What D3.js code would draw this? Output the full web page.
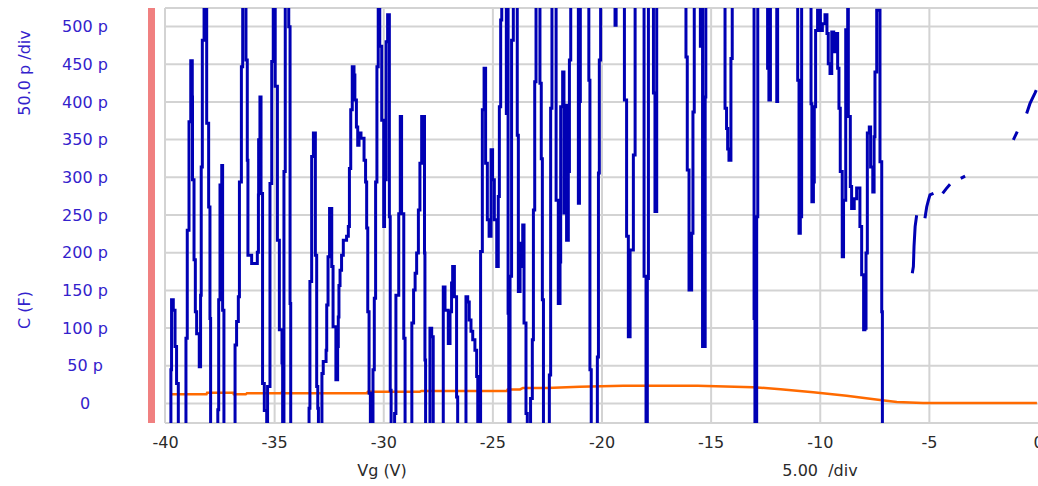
<!DOCTYPE html>
<html>
<head>
<meta charset="utf-8">
<script src="https://cdn.jsdelivr.net/npm/d3@7"></script>
<style>
  html, body { margin: 0; padding: 0; background: #ffffff; }
  svg { display: block; }
  text { font-family: "DejaVu Sans", Verdana, sans-serif; }
</style>
</head>
<body>
<svg id="chart" width="1038" height="486"></svg>
<script>
// ---------- data ----------
const xTicks = [-40, -35, -30, -25, -20, -15, -10, -5, 0];
const xTickLabels = ["-40", "-35", "-30", "-25", "-20", "-15", "-10", "-5", "0"];
const yTicks = [0, 50, 100, 150, 200, 250, 300, 350, 400, 450, 500];
const yTickLabels = ["0", "50 p", "100 p", "150 p", "200 p", "250 p", "300 p", "350 p", "400 p", "450 p", "500 p"];

// Capacitance trace, noisy part (Vg in V, C in pF)
const capVg = [
  -39.76,-39.73,-39.70,-39.62,-39.54,-39.47,-39.39,
  -39.13,-39.04,-38.98,-38.90,-38.82,-38.75,-38.74,-38.67,-38.61,-38.55,-38.43,-38.37,-38.34,-38.29,-38.21,-38.09,-38.00,-37.94,-37.91,
  -37.60,-37.58,-37.54,-37.48,-37.40,-37.36,-37.30,
  -36.84,-36.79,-36.72,-36.64,-36.59,-36.50,-36.44,-36.33,-36.29,-36.23,-36.20,-36.03,-35.83,-35.77,-35.72,-35.71,-35.65,-35.60,-35.53,-35.45,-35.34,
  -35.30,-35.20,-35.19,-35.11,-35.04,-34.95,-34.85,-34.76,-34.64,-34.61,-34.55,-34.49,-34.38,-34.33,-34.27,-34.24,
  -33.43,-33.40,-33.36,-33.28,-33.20,-33.11,-33.05,-33.00,-32.97,
  -32.82,-32.81,-32.75,-32.62,-32.59,-32.53,-32.46,-32.36,-32.30,-32.17,-32.09,-32.06,-32.03,-31.98,-31.91,-31.83,-31.68,-31.60,-31.55,-31.49,-31.42,-31.34,-31.30,-31.23,-31.17,-31.11,-31.02,-30.88,-30.81,-30.76,-30.71,-30.65,-30.59,
  -30.50,-30.47,-30.41,-30.35,-30.29,-30.23,-30.16,-30.07,-29.98,-29.94,-29.87,-29.80,-29.72,-29.68,-29.64,
  -29.49,-29.48,-29.42,-29.29,-29.22,-29.16,-29.06,-29.00,
  -28.70,-28.69,-28.61,-28.54,-28.47,-28.39,-28.32,-28.24,-28.13,-28.11,-28.09,-28.06,
  -27.87,-27.86,-27.78,-27.71,
  -27.26,-27.25,-27.17,-27.02,-26.94,-26.87,-26.82,-26.74,-26.64,-26.59,
  -26.26,-26.21,-26.13,-26.06,-25.98,-25.90,-25.80,-25.72,-25.67,-25.61,-25.57,
  -25.54,-25.46,-25.38,-25.31,-25.23,-25.15,-25.06,-24.99,-24.91,-24.80,-24.73,-24.68,-24.62,-24.57,-24.45,-24.36,-24.32,-24.28,-24.25,
  -24.22,-24.19,-24.12,-24.04,-23.89,-23.86,-23.81,-23.73,-23.69,-23.61,-23.55,-23.46,-23.40,
  -23.31,-23.25,-23.17,-23.12,-23.06,-23.00,-22.91,-22.82,-22.76,-22.71,-22.66,
  -22.40,-22.39,-22.33,-22.27,-22.15,-22.08,-21.98,-21.90,-21.87,-21.78,-21.72,-21.67,-21.60,-21.52,-21.47,-21.41,
  -21.08,-21.06,-21.01,-20.97,-20.63,-20.58,-20.53,-20.47,
  -20.25,-20.19,-20.14,-20.10,-20.04,
  -19.38,-19.33,
  -18.95,-18.85,-18.77,-18.69,-18.54,-18.46,
  -18.05,-17.96,-17.90,-17.85,
  -17.62,-17.55,-17.47,
  -16.13,-16.07,-15.99,-15.87,-15.81,-15.75,
  -15.49,-15.47,-15.44,-15.37,-15.25,-15.22,
  -14.42,-14.34,-14.27,-14.22,-14.16,-14.07,-14.01,
  -13.04,-13.01,-12.97,-12.89,-12.84,
  -12.43,-12.39,-12.33,-12.26,
  -12.02,-11.97,-11.93,
  -11.06,-11.01,-10.95,-10.89,-10.83,
  -10.45,-10.40,-10.36,-10.29,-10.25,-10.19,-10.10,-9.97,-9.88,-9.76,-9.67,-9.61,-9.53,-9.45,-9.36,-9.30,-9.18,-9.12,-9.06,-8.97,-8.91,-8.81,-8.72,-8.69,-8.60,-8.54,-8.42,-8.31,-8.16,-8.08,-7.99,
  -7.93,-7.88,-7.82,-7.73,-7.67,-7.57,-7.51,-7.47,-7.39,-7.30,-7.24,-7.16,-7.13,-7.00
];
const capC = [
  -40,44,137,123,75,26,-40,
  -40,86,229,373,454,406,296,190,121,92,48,143,313,481,540,371,260,112,-40,
  -40,-9,137,289,315,123,-40,
  -40,77,108,141,293,446,540,540,455,322,196,185,185,200,276,349,406,278,26,-10,-40,
  22,22,291,453,540,420,216,97,53,-40,307,540,540,499,132,-40,
  -40,-7,161,327,358,196,22,-7,-40,
  -40,39,55,70,130,194,258,181,101,31,75,114,156,176,196,216,221,234,311,389,446,435,402,366,342,358,351,322,293,232,121,13,-40,
  -40,44,139,293,446,540,473,375,234,296,479,515,247,17,-40,
  -40,-14,143,251,380,251,86,-40,
  -40,106,150,172,199,256,318,380,380,199,57,-40,
  -40,99,88,-40,
  -40,154,123,79,121,159,181,141,8,-40,
  -40,141,134,110,95,84,70,35,-25,13,-40,
  201,389,444,318,243,221,336,296,243,181,274,393,508,540,540,384,540,119,-40,
  -40,168,481,540,540,355,148,212,181,236,106,-14,-40,
  -40,6,84,256,426,540,540,424,324,137,-40,
  -40,37,391,540,540,269,132,187,393,439,252,395,216,307,455,540,
  540,265,400,540,540,428,44,-40,
  -40,61,305,455,540,
  501,540,
  402,221,88,203,329,540,
  168,-40,165,540,
  411,254,540,
  459,309,150,225,386,540,
  540,473,540,75,406,540,
  540,391,364,337,322,457,540,
  540,112,-40,247,540,
  540,444,402,540,
  540,400,540,
  540,428,225,247,540,
  540,397,267,293,393,494,521,494,503,515,490,450,437,492,466,490,444,391,307,194,269,495,540,380,287,258,271,285,234,170,97,
  99,199,358,366,313,280,353,439,521,521,320,121,-40,-40
];

// Capacitance trace, sparse tail (null = gap in the measurement)
const tailVg = [-5.76,-5.71,-5.68,-5.63,-5.56, -5.40, -5.18,-5.10,-5.02,-4.95,-4.79, -4.60, -4.37,-4.21,-4.03, -3.80, -3.54,-3.34, -2.00, -1.13,-0.95, -0.75, -0.52,-0.37,-0.14,-0.08];
const tailC  = [172,181,208,234,249, null, 245,260,269,276,278, null, 278,284,290, null, 298,301, null, 349,360, null, 384,397,411,415];

// Second trace (orange), Vg in V, C in pF
const orangeVg = [-39.77,-38.10,-38.07,-36.88,-36.85,-36.30,-36.25,-34.70,-34.62,-34.55,-30.76,-30.70,-28.32,-28.25,-24.34,-24.30,-23.73,-23.60,-22.50,-21.00,-19.00,-15.60,-13.06,-11.80,-10.30,-8.77,-7.24,-6.47,-5.27,-0.05];
const orangeC  = [11.5,11.5,13.7,13.7,11.5,11.5,12.8,12.8,14.5,12.8,12.8,15,15,16,16,18,18,20,20,21.6,23,23,21,18.2,14.2,9.7,4,1.3,0,0];

// ---------- drawing ----------
const svg = d3.select("#chart");
const L = 165, R = 1038, T = 8, B = 423;

const x = d3.scaleLinear().domain([-40, 0]).range([L, R]);
const y = d3.scaleLinear().domain([0, 500]).range([403, 26]);

const gridColor = "#d3d3d3";

// red bar at left of the plot
svg.append("rect").attr("x", 148).attr("y", T).attr("width", 7).attr("height", B - T)
  .attr("fill", "#f08080");

// grid lines via axes
const gx = svg.append("g").attr("transform", `translate(0,${B})`)
  .call(d3.axisBottom(x).tickValues(xTicks.slice(1, -1)).tickSize(-(B - T)).tickFormat(""));
gx.selectAll("line").attr("stroke", gridColor).attr("stroke-width", 2);
gx.select(".domain").remove();

const gy = svg.append("g").attr("transform", `translate(${L},0)`)
  .call(d3.axisLeft(y).tickValues(yTicks).tickSize(-(R - L)).tickFormat(""));
gy.selectAll("line").attr("stroke", gridColor).attr("stroke-width", 2);
gy.select(".domain").remove();

// frame
svg.append("line").attr("x1", L).attr("x2", R).attr("y1", T).attr("y2", T).attr("stroke", gridColor).attr("stroke-width", 2);
svg.append("line").attr("x1", L).attr("x2", R).attr("y1", B).attr("y2", B).attr("stroke", gridColor).attr("stroke-width", 2);
svg.append("line").attr("x1", L).attr("x2", L).attr("y1", T).attr("y2", B).attr("stroke", gridColor).attr("stroke-width", 2);

// clip
svg.append("clipPath").attr("id", "clip").append("rect")
  .attr("x", L).attr("y", T).attr("width", R - L).attr("height", B - T);

const plot = svg.append("g").attr("clip-path", "url(#clip)");

const orangeData = orangeVg.map((v, i) => [v, orangeC[i]]);
const capData = capVg.map((v, i) => [v, capC[i]]);
const tailData = tailVg.map((v, i) => [v, tailC[i]]);

const line = d3.line().defined(d => d[1] !== null).x(d => x(d[0])).y(d => y(d[1]));
const stepLine = d3.line().defined(d => d[1] !== null).x(d => x(d[0])).y(d => y(d[1]))
  .curve(d3.curveStepAfter);

plot.append("path").datum(orangeData).attr("d", line)
  .attr("fill", "none").attr("stroke", "#ff6a00").attr("stroke-width", 2.5);

plot.append("path").datum(capData).attr("d", stepLine)
  .attr("fill", "none").attr("stroke", "#0000b4").attr("stroke-width", 3)
  .attr("stroke-linejoin", "miter");

plot.append("path").datum(tailData).attr("d", line)
  .attr("fill", "none").attr("stroke", "#0000b4").attr("stroke-width", 3);

// y tick labels
const ya = svg.append("g").attr("transform", `translate(${L},0)`)
  .call(d3.axisLeft(y).tickValues(yTicks).tickSize(0).tickFormat((d, i) => yTickLabels[i]));
ya.select(".domain").remove();
ya.selectAll("text").attr("x", -80).attr("text-anchor", "middle")
  .attr("font-size", 16).attr("fill", "#3322cc").attr("font-family", "DejaVu Sans, sans-serif")
  .attr("dy", "0.35em");

// x tick labels
const xa = svg.append("g").attr("transform", `translate(0,${B})`)
  .call(d3.axisBottom(x).tickValues(xTicks).tickSize(0).tickFormat((d, i) => xTickLabels[i]));
xa.select(".domain").remove();
xa.selectAll("text").attr("y", 19).attr("dy", "0.35em").attr("text-anchor", "middle")
  .attr("font-size", 16).attr("fill", "#2a2a2a").attr("font-family", "DejaVu Sans, sans-serif");

// axis titles
svg.append("text").attr("x", 382).attr("y", 470).attr("dy", "0.35em").attr("text-anchor", "middle")
  .attr("font-size", 16).attr("fill", "#2a2a2a").text("Vg (V)");
svg.append("text").attr("x", 820).attr("y", 470).attr("dy", "0.35em").attr("text-anchor", "middle")
  .attr("font-size", 16).attr("fill", "#2a2a2a").attr("xml:space", "preserve").text("5.00  /div");

svg.append("text").attr("transform", "translate(24,73) rotate(-90)").attr("dy", "0.35em")
  .attr("text-anchor", "middle").attr("font-size", 16).attr("fill", "#3322cc").text("50.0 p /div");
svg.append("text").attr("transform", "translate(24,310) rotate(-90)").attr("dy", "0.35em")
  .attr("text-anchor", "middle").attr("font-size", 16).attr("fill", "#3322cc").text("C (F)");
</script>
</body>
</html>
